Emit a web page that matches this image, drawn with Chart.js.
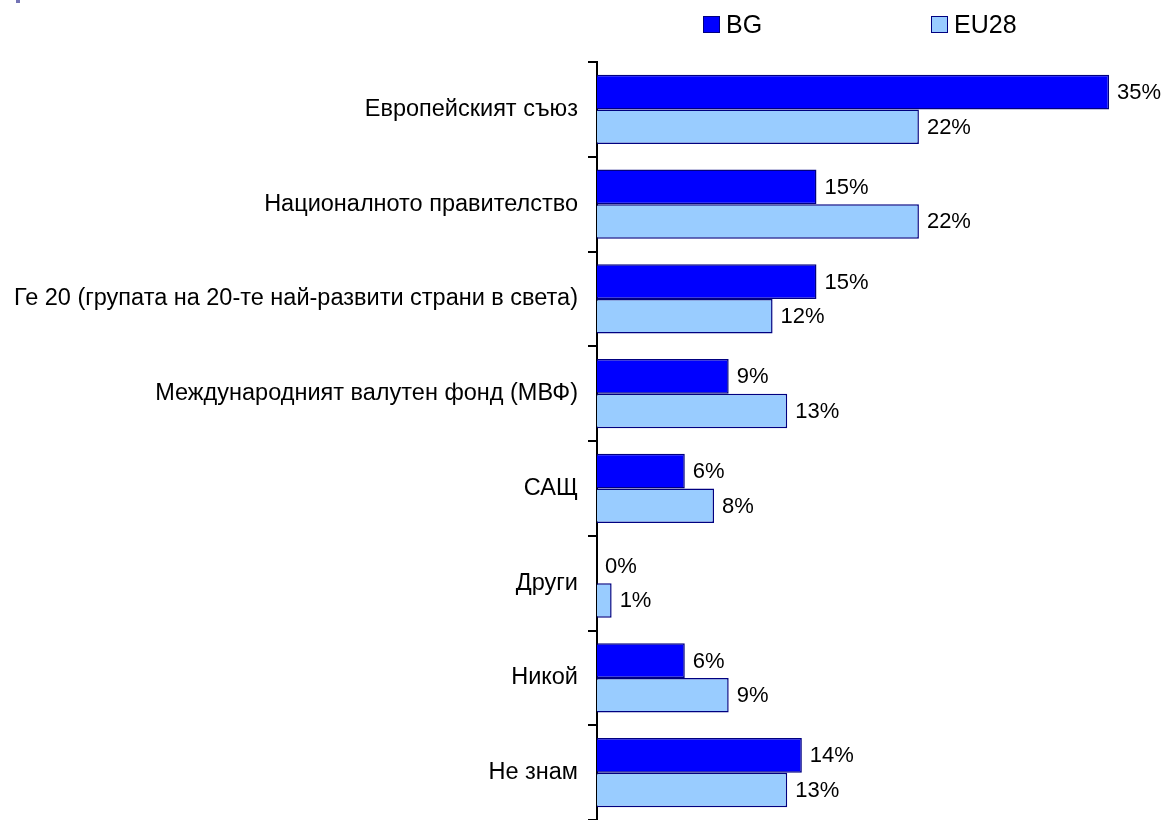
<!DOCTYPE html>
<html>
<head>
<meta charset="utf-8">
<script src="https://cdn.jsdelivr.net/npm/chart.js@4/dist/chart.umd.min.js"></script>
<style>
  html, body { margin: 0; padding: 0; background: #fff; overflow: hidden; }
  #wrap { position: relative; width: 1165px; height: 820px; }
  #chart { display: block; }
  .legend { position: absolute; top: 10px; height: 28px; font: 25px "Liberation Sans", Arial, sans-serif; color: #000; display: flex; align-items: center; }
  .legend i { display: inline-block; width: 15px; height: 15px; border: 1.5px solid #000080; margin-right: 6px; }
  #mark { position: absolute; left: 16px; top: 0; width: 4px; height: 3px; background: #7373b5; }
</style>
</head>
<body>
<div id="wrap">
  <div id="mark"></div>
  <div class="legend" style="left:703px"><i style="background:#0000ff"></i>BG</div>
  <div class="legend" style="left:931px"><i style="background:#99ccff"></i>EU28</div>
  <canvas id="chart" width="1165" height="820"></canvas>
</div>
<script>
// ─── Данни ───────────────────────────────────────────
const categories = [
  'Европейският съюз',
  'Националното правителство',
  'Ге 20 (групата на 20-те най-развити страни в света)',
  'Международният валутен фонд (МВФ)',
  'САЩ',
  'Други',
  'Никой',
  'Не знам',
];
const bgValues   = [35, 15, 15, 9, 6, 0, 6, 14];
const eu28Values = [22, 22, 12, 13, 8, 1, 9, 13];

const FONT = '"Liberation Sans", Arial, sans-serif';

// ─── Етикети със стойности ───────────────────────────
const valueLabels = {
  id: 'valueLabels',
  afterDatasetsDraw(chart) {
    const ctx = chart.ctx;
    ctx.save();
    ctx.font = '22px ' + FONT;
    ctx.fillStyle = '#000';
    ctx.textAlign = 'left';
    ctx.textBaseline = 'middle';
    chart.data.datasets.forEach((ds, i) => {
      chart.getDatasetMeta(i).data.forEach((bar, j) => {
        ctx.fillText(ds.data[j] + '%', bar.x + 8, bar.y + 1);
      });
    });
    ctx.restore();
  },
};

new Chart(document.getElementById('chart'), {
  type: 'bar',
  data: {
    labels: categories,
    datasets: [
      { label: 'BG', data: bgValues, backgroundColor: '#0000ff', borderColor: '#000080', borderWidth: 1.5 },
      { label: 'EU28', data: eu28Values, backgroundColor: '#99ccff', borderColor: '#000080', borderWidth: 1.5 },
    ],
  },
  options: {
    indexAxis: 'y',
    responsive: false,
    animation: false,
    layout: { padding: { top: 62, right: 12, bottom: 0, left: 0 } },
    datasets: { bar: { categoryPercentage: 0.73, barPercentage: 1 } },
    plugins: { legend: { display: false }, tooltip: { enabled: false } },
    scales: {
      x: { display: false, min: 0, max: 38 },
      y: {
        afterFit: s => { s.width = 597; s.paddingTop = 0; s.paddingBottom = 0; },
        grid: { drawOnChartArea: false, offset: true, tickLength: 9, color: '#000', lineWidth: 2 },
        border: { color: '#000', width: 2 },
        ticks: { color: '#000', font: { family: FONT, size: 23.5 }, padding: 10 },
      },
    },
  },
  plugins: [valueLabels],
});
</script>
</body>
</html>
